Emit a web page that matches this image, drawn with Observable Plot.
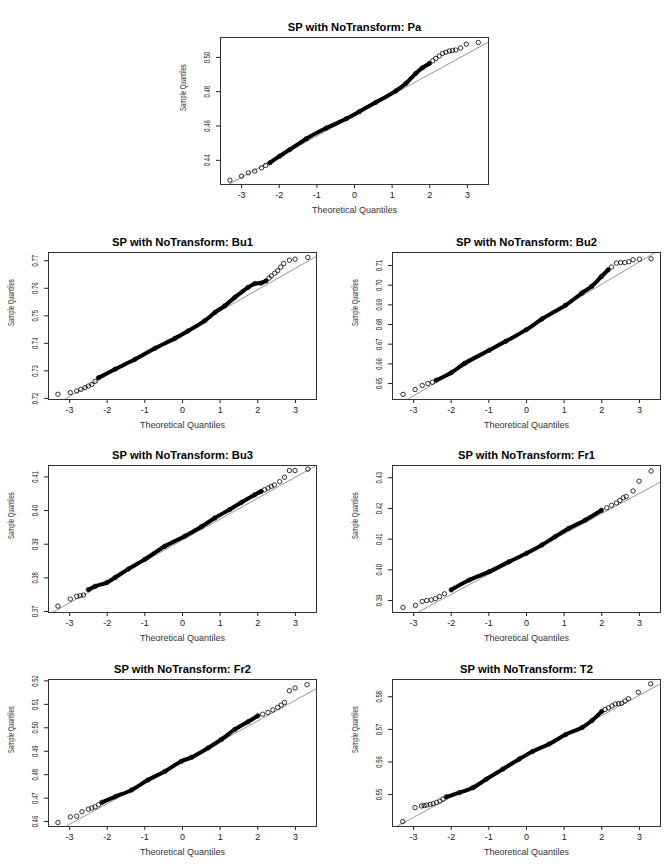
<!DOCTYPE html>
<html>
<head>
<meta charset="utf-8">
<script src="https://cdn.jsdelivr.net/npm/d3@7"></script>
<script src="https://cdn.jsdelivr.net/npm/@observablehq/plot@0.6"></script>
<style>
  html, body { margin: 0; padding: 0; background: #fff; overflow: hidden; }
  #wrap { position: relative; width: 669px; height: 866px; }
  .panel { position: absolute; }
</style>
</head>
<body>
<div id="wrap"></div>
<script>
// ---------- shared text / ticks ----------
const titlePrefix = "SP with NoTransform: ";
const xLabel = "Theoretical Quantiles";
const yLabel = "Sample Quantiles";
const xTicks = [-3, -2, -1, 0, 1, 2, 3];

// ---------- Pa ----------
const paBodyQ = [-2.25, -1.99, -1.72, -1.28, -0.75, -0.22, 0.13, 0.57, 1.10, 1.37, 1.63, 1.81, 1.99];
const paBodyS = [0.4385, 0.4424, 0.4462, 0.4526, 0.4588, 0.4642, 0.4684, 0.4738, 0.4805, 0.4849, 0.4907, 0.4940, 0.4965];
const paTailQ = [-3.31, -3.0, -2.82, -2.65, -2.47, -2.36, 2.08, 2.16, 2.25, 2.34, 2.43, 2.52, 2.60, 2.69, 2.82, 2.97, 3.29];
const paTailS = [0.4284, 0.4308, 0.4327, 0.4337, 0.4356, 0.4370, 0.4980, 0.4994, 0.5008, 0.5023, 0.5030, 0.5037, 0.5040, 0.5043, 0.5055, 0.5077, 0.5087];
const paLineQ = [-3.35, 3.57];
const paLineS = [0.4259, 0.5091];
const paYTicks = [0.44, 0.46, 0.48, 0.50];
const paYDomain = [0.4259, 0.5116];

// ---------- Bu1 ----------
const bu1BodyQ = [-2.23, -1.79, -1.26, -0.73, -0.20, 0.15, 0.59, 0.86, 1.12, 1.39, 1.74, 1.92, 2.09, 2.22];
const bu1BodyS = [0.7275, 0.7306, 0.7342, 0.7382, 0.7418, 0.7445, 0.7482, 0.7512, 0.7536, 0.7567, 0.7603, 0.7617, 0.7619, 0.7627];
const bu1TailQ = [-3.31, -2.98, -2.81, -2.70, -2.59, -2.50, -2.41, -2.32, 2.30, 2.36, 2.45, 2.53, 2.61, 2.69, 2.84, 2.99, 3.33];
const bu1TailS = [0.7215, 0.7221, 0.7227, 0.7233, 0.7239, 0.7245, 0.7251, 0.7262, 0.7637, 0.7645, 0.7655, 0.7664, 0.7677, 0.7690, 0.7702, 0.7706, 0.7712];
const bu1LineQ = [-3.17, 3.56];
const bu1LineS = [0.7194, 0.7716];
const bu1YTicks = [0.72, 0.73, 0.74, 0.75, 0.76, 0.77];
const bu1YDomain = [0.7196, 0.7730];

// ---------- Bu2 ----------
const bu2BodyQ = [-2.40, -2.0, -1.65, -0.99, -0.55, 0, 0.41, 1.03, 1.47, 1.73, 1.99, 2.17];
const bu2BodyS = [0.6517, 0.6555, 0.6602, 0.6669, 0.6715, 0.6774, 0.6828, 0.6897, 0.6960, 0.6994, 0.7044, 0.7078];
const bu2TailQ = [-3.28, -2.96, -2.77, -2.62, -2.50, 2.26, 2.39, 2.50, 2.61, 2.72, 2.83, 3.0, 3.31];
const bu2TailS = [0.6445, 0.6470, 0.6490, 0.6500, 0.6507, 0.7092, 0.7112, 0.7115, 0.7115, 0.7119, 0.7129, 0.7132, 0.7134];
const bu2LineQ = [-3.19, 3.42];
const bu2LineS = [0.6416, 0.7166];
const bu2YTicks = [0.65, 0.66, 0.67, 0.68, 0.69, 0.70, 0.71];
const bu2YDomain = [0.6419, 0.7166];

// ---------- Bu3 ----------
const bu3BodyQ = [-2.50, -2.32, -2.01, -1.79, -1.44, -1.0, -0.47, 0.06, 0.50, 0.86, 1.25, 1.56, 1.92, 2.09];
const bu3BodyS = [0.3765, 0.3775, 0.3786, 0.3801, 0.3826, 0.3855, 0.3894, 0.3924, 0.3952, 0.3978, 0.4003, 0.4024, 0.4047, 0.4057];
const bu3TailQ = [-3.31, -2.98, -2.81, -2.72, -2.63, 2.18, 2.27, 2.36, 2.44, 2.58, 2.71, 2.84, 2.99, 3.33];
const bu3TailS = [0.3716, 0.3737, 0.3745, 0.3747, 0.3749, 0.4062, 0.4067, 0.4072, 0.4076, 0.4086, 0.4099, 0.4119, 0.4119, 0.4123];
const bu3LineQ = [-3.46, 3.51];
const bu3LineS = [0.3697, 0.4131];
const bu3YTicks = [0.37, 0.38, 0.39, 0.40, 0.41];
const bu3YDomain = [0.3697, 0.4134];

// ---------- Fr1 ----------
const fr1BodyQ = [-2.0, -1.52, -0.99, -0.47, 0, 0.41, 0.76, 1.12, 1.56, 1.99];
const fr1BodyS = [0.3935, 0.3967, 0.3994, 0.4026, 0.4054, 0.4081, 0.4108, 0.4135, 0.4162, 0.4194];
const fr1TailQ = [-3.28, -2.95, -2.77, -2.65, -2.53, -2.42, -2.31, -2.18, 2.13, 2.26, 2.39, 2.48, 2.57, 2.65, 2.83, 2.99, 3.31];
const fr1TailS = [0.3878, 0.3884, 0.3897, 0.3900, 0.3902, 0.3906, 0.3913, 0.3922, 0.4202, 0.4210, 0.4218, 0.4226, 0.4235, 0.4239, 0.4257, 0.4289, 0.4322];
const fr1LineQ = [-2.93, 3.56];
const fr1LineS = [0.3859, 0.4286];
const fr1YTicks = [0.39, 0.40, 0.41, 0.42, 0.43];
const fr1YDomain = [0.3861, 0.4340];

// ---------- Fr2 ----------
const fr2BodyQ = [-2.14, -1.79, -1.35, -0.91, -0.47, -0.03, 0.24, 0.68, 1.03, 1.39, 1.74, 2.00];
const fr2BodyS = [0.4682, 0.4706, 0.4735, 0.4778, 0.4814, 0.4857, 0.4874, 0.4914, 0.4950, 0.4993, 0.5026, 0.5051];
const fr2TailQ = [-3.31, -2.98, -2.81, -2.67, -2.50, -2.41, -2.32, -2.23, 2.13, 2.27, 2.40, 2.53, 2.62, 2.71, 2.84, 2.99, 3.31];
const fr2TailS = [0.4596, 0.4620, 0.4623, 0.4642, 0.4653, 0.4658, 0.4663, 0.4672, 0.5058, 0.5065, 0.5076, 0.5087, 0.5097, 0.5108, 0.5158, 0.5170, 0.5184];
const fr2LineQ = [-3.11, 3.56];
const fr2LineS = [0.4579, 0.5167];
const fr2YTicks = [0.46, 0.47, 0.48, 0.49, 0.50, 0.51, 0.52];
const fr2YDomain = [0.4579, 0.5206];

// ---------- T2 ----------
const t2BodyQ = [-2.13, -1.78, -1.42, -1.07, -0.63, -0.19, 0.16, 0.60, 1.04, 1.48, 1.74, 2.00];
const t2BodyS = [0.5493, 0.5506, 0.5521, 0.5547, 0.5578, 0.5609, 0.5632, 0.5655, 0.5684, 0.5706, 0.5727, 0.5755];
const t2TailQ = [-3.29, -2.96, -2.79, -2.72, -2.65, -2.56, -2.48, -2.39, -2.30, -2.22, 2.09, 2.18, 2.27, 2.36, 2.45, 2.53, 2.62, 2.71, 2.97, 3.30];
const t2TailS = [0.5417, 0.5460, 0.5465, 0.5466, 0.5468, 0.5470, 0.5472, 0.5476, 0.5480, 0.5486, 0.5761, 0.5766, 0.5772, 0.5778, 0.5779, 0.5780, 0.5787, 0.5794, 0.5814, 0.5840];
const t2LineQ = [-3.45, 3.53];
const t2LineS = [0.5402, 0.5838];
const t2YTicks = [0.55, 0.56, 0.57, 0.58];
const t2YDomain = [0.5402, 0.5853];

// ---------- panels ----------
const panels = [
  {name: "Pa",  bodyQ: paBodyQ,  bodyS: paBodyS,  tailQ: paTailQ,  tailS: paTailS,  lineQ: paLineQ,  lineS: paLineS,  yTicks: paYTicks,  yDomain: paYDomain,  left: 175, top: 12},
  {name: "Bu1", bodyQ: bu1BodyQ, bodyS: bu1BodyS, tailQ: bu1TailQ, tailS: bu1TailS, lineQ: bu1LineQ, lineS: bu1LineS, yTicks: bu1YTicks, yDomain: bu1YDomain, left: 3,   top: 227},
  {name: "Bu2", bodyQ: bu2BodyQ, bodyS: bu2BodyS, tailQ: bu2TailQ, tailS: bu2TailS, lineQ: bu2LineQ, lineS: bu2LineS, yTicks: bu2YTicks, yDomain: bu2YDomain, left: 347, top: 227},
  {name: "Bu3", bodyQ: bu3BodyQ, bodyS: bu3BodyS, tailQ: bu3TailQ, tailS: bu3TailS, lineQ: bu3LineQ, lineS: bu3LineS, yTicks: bu3YTicks, yDomain: bu3YDomain, left: 3,   top: 440},
  {name: "Fr1", bodyQ: fr1BodyQ, bodyS: fr1BodyS, tailQ: fr1TailQ, tailS: fr1TailS, lineQ: fr1LineQ, lineS: fr1LineS, yTicks: fr1YTicks, yDomain: fr1YDomain, left: 347, top: 440},
  {name: "Fr2", bodyQ: fr2BodyQ, bodyS: fr2BodyS, tailQ: fr2TailQ, tailS: fr2TailS, lineQ: fr2LineQ, lineS: fr2LineS, yTicks: fr2YTicks, yDomain: fr2YDomain, left: 3,   top: 654},
  {name: "T2",  bodyQ: t2BodyQ,  bodyS: t2BodyS,  tailQ: t2TailQ,  tailS: t2TailS,  lineQ: t2LineQ,  lineS: t2LineS,  yTicks: t2YTicks,  yDomain: t2YDomain,  left: 347, top: 654}
];

const zip = (Q, S) => Q.map((q, i) => ({q, s: S[i]}));
const wrap = document.getElementById("wrap");
const fontFamily = "'Liberation Sans', Arial, Helvetica, sans-serif";

for (const p of panels) {
  const body = zip(p.bodyQ, p.bodyS);
  const tail = zip(p.tailQ, p.tailS);
  const qq = zip(p.lineQ, p.lineS);
  const chart = Plot.plot({
    width: 45 + 268 + 8,
    height: 25 + 147 + 35,
    marginLeft: 45, marginRight: 8, marginTop: 25, marginBottom: 35,
    style: {fontFamily, fontSize: "9px", color: "#222", background: "transparent", overflow: "visible"},
    x: {domain: [-3.56, 3.56], ticks: xTicks, tickFormat: d => String(d), tickSize: 4, tickPadding: 3, label: null},
    y: {domain: p.yDomain, ticks: p.yTicks, tickFormat: d3.format(".2f"), tickSize: 4, tickPadding: 7, tickRotate: -90, label: null},
    marks: [
      Plot.line(qq, {x: "q", y: "s", stroke: "#8a8a8a", strokeWidth: 0.9, clip: true}),
      Plot.line(body, {x: "q", y: "s", curve: "catmull-rom", stroke: "#000", strokeWidth: 4, strokeLinecap: "round", strokeLinejoin: "round"}),
      Plot.dot(body, {x: "q", y: "s", r: 2.2, stroke: "#000", strokeWidth: 0.8}),
      Plot.dot(tail, {x: "q", y: "s", r: 2.2, stroke: "#000", strokeWidth: 0.8}),
      Plot.frame({stroke: "#333", strokeWidth: 1}),
      Plot.text([titlePrefix + p.name], {text: d => d, frameAnchor: "top", dy: -14, fontWeight: "bold", fontSize: 11.2, fill: "#000"}),
      Plot.text([xLabel], {text: d => d, frameAnchor: "bottom", dy: 28, fill: "#333"}),
      Plot.text([yLabel], {text: d => d, frameAnchor: "left", dx: -37, rotate: -90, fill: "#333"})
    ]
  });
  // R's rotated labels appear condensed along their length
  chart.querySelectorAll("text").forEach(t => {
    const tr = t.getAttribute("transform");
    if (tr && tr.includes("rotate(-90)")) t.setAttribute("transform", tr + " scale(0.66,1)");
  });
  chart.classList.add("panel");
  chart.style.left = p.left + "px";
  chart.style.top = p.top + "px";
  wrap.appendChild(chart);
}
</script>
</body>
</html>
